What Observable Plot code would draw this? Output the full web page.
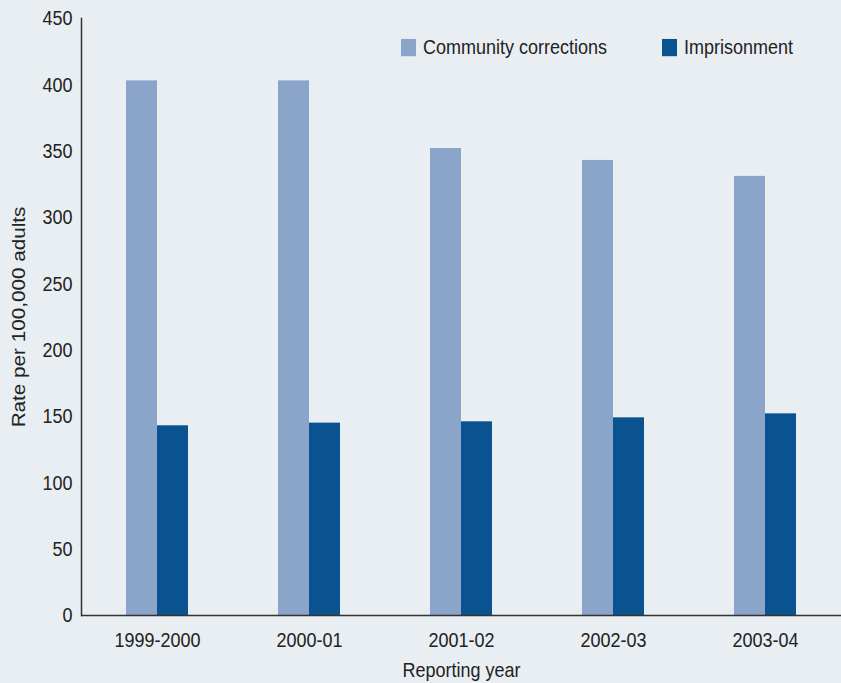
<!DOCTYPE html>
<html>
<head>
<meta charset="utf-8">
<script src="https://cdn.jsdelivr.net/npm/d3@7"></script>
<script src="https://cdn.jsdelivr.net/npm/@observablehq/plot@0.6"></script>
<style>
  html, body { margin: 0; padding: 0; background: #e9eef2; }
  #wrap { position: relative; width: 841px; height: 683px; overflow: hidden; background: #e9eef2; }
  .leg { position: absolute; top: 38px; height: 18px; display: flex; align-items: center;
         font-family: "Liberation Sans", Arial, sans-serif; font-size: 18px; line-height: 18px; color: #222;
         transform: scaleY(1.15); transform-origin: center; white-space: nowrap; }
  .sw { display: inline-block; width: 15px; height: 15px; margin-right: 7px; }
</style>
</head>
<body>
<div id="wrap"></div>
<script>
const years = ["1999-2000", "2000-01", "2001-02", "2002-03", "2003-04"];
const series = ["Community corrections", "Imprisonment"];
const community = [403, 403, 352, 343, 331];
const imprisonment = [143, 145, 146, 149, 152];
const colors = ["#8aa5c9", "#0b5291"];
const yTicks = [0, 50, 100, 150, 200, 250, 300, 350, 400, 450];

const data = years.flatMap((y, i) => [
  {year: y, series: series[0], value: community[i]},
  {year: y, series: series[1], value: imprisonment[i]}
]);

const font = '"Liberation Sans", Arial, sans-serif';

const chart = Plot.plot({
  width: 841,
  height: 683,
  marginLeft: 81,
  marginRight: 0,
  marginTop: 18,
  marginBottom: 68,
  style: {background: "transparent", fontFamily: font, fontSize: "18px", color: "#222"},
  fx: {domain: years, padding: 0, label: "Reporting year", axis: null},
  x: {domain: series, axis: null, paddingInner: 0, paddingOuter: 1.45},
  y: {domain: [0, 450], axis: null},
  color: {domain: series, range: colors},
  marks: [
    Plot.barY(data, {fx: "year", x: "series", y: "value", fill: "series"}),
    Plot.ruleY([0], {stroke: "#333", strokeWidth: 1.5}),
    Plot.frame({anchor: "left", facetAnchor: "left", stroke: "#333", strokeWidth: 1.5}),
    Plot.axisY({ticks: yTicks, tickSize: 0, tickPadding: 9, label: "Rate per 100,000 adults",
                labelAnchor: "center", labelArrow: "none", labelOffset: 69, fill: "#222"}),
    Plot.axisFx({anchor: "bottom", tickSize: 0, tickPadding: 18, label: "Reporting year", labelAnchor: "center",
                 labelArrow: "none", labelOffset: 61, fill: "#222"})
  ]
});

const wrap = document.getElementById("wrap");
wrap.appendChild(chart);

// the reference text is slightly stretched vertically
const ns = "http://www.w3.org/2000/svg";
chart.querySelectorAll("text").forEach(t => {
  const g = document.createElementNS(ns, "g");
  t.parentNode.insertBefore(g, t);
  g.appendChild(t);
  const b = g.getBBox();
  const cy = b.y + b.height / 2;
  g.setAttribute("transform", `translate(0,${cy}) scale(1,1.15) translate(0,${-cy})`);
});

// legend
const legPos = [401, 662];
series.forEach((s, i) => {
  const d = document.createElement("div");
  d.className = "leg";
  d.style.left = legPos[i] + "px";
  const sw = document.createElement("span");
  sw.className = "sw";
  sw.style.background = colors[i];
  d.appendChild(sw);
  d.appendChild(document.createTextNode(s));
  wrap.appendChild(d);
});
</script>
</body>
</html>
